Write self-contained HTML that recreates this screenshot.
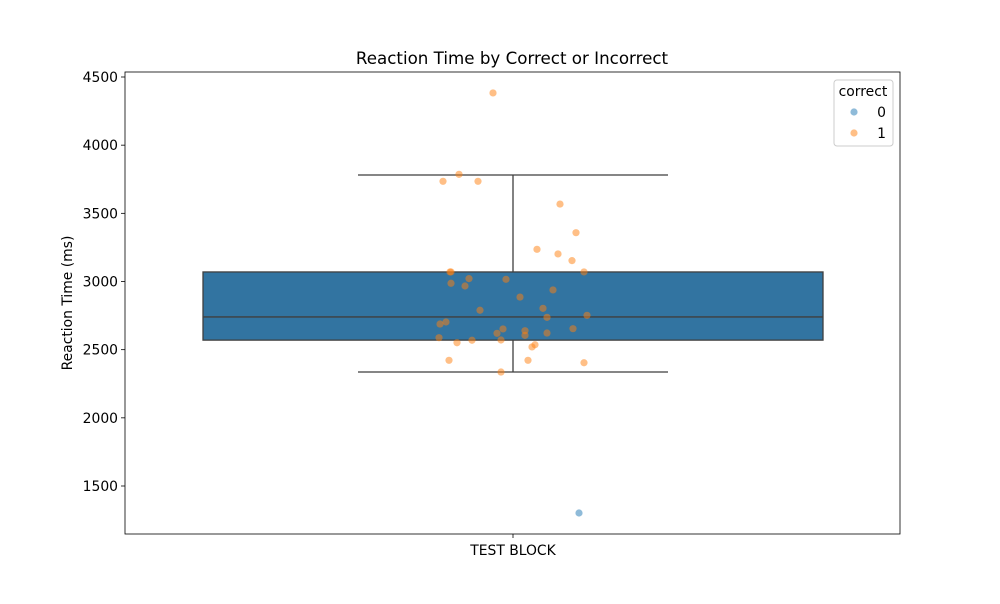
<!DOCTYPE html>
<html><head><meta charset="utf-8"><style>
body{margin:0;background:#fff;font-family:"DejaVu Sans","Liberation Sans",sans-serif}
svg text{font-family:"DejaVu Sans","Liberation Sans",sans-serif}
</style></head><body>
<svg id="c" width="1000" height="600" xmlns="http://www.w3.org/2000/svg"></svg>
<script>
const category = ["TEST BLOCK"];
const yTicks = [1500,2000,2500,3000,3500,4000,4500];
const boxStats = {q1:2570, median:2740, q3:3070, lo:2336, hi:3781};
const correctValues = [4383,3786,3735,3735,3568,3358,3236,3202,3153,3070,3070,3070,3021,3016,2987,2967,2938,2886,2789,2803,2737,2752,2703,2688,2652,2654,2639,2620,2605,2622,2588,2571,2569,2551,2536,2520,2422,2422,2404,2336];
const correctJitter = [-20,-54,-70,-35,47,63,24,45,59,-63,-62,71,-44,-7,-62,-48,40,7,-33,30,34,74,-67,-73,-10,60,12,-16,12,34,-74,-12,-41,-56,22,19,-64,15,71,-12];
const incorrectValues = [1302];
const incorrectJitter = [66];
const svg=document.getElementById('c');const NS='http://www.w3.org/2000/svg';
function el(t,a,txt){const e=document.createElementNS(NS,t);for(const k in a)e.setAttribute(k,a[k]);if(txt!==undefined)e.textContent=txt;svg.appendChild(e);return e;}
const L=125,R=900,T=72,B=534,cx=513;
const y=v=>486-(v-1500)*(409/3000);
let e=el('rect',{x:L,y:T,width:R-L,height:B-T,fill:'none',stroke:'#000','stroke-width':0.8});

e=el('text',{x:512,y:64,'text-anchor':'middle','font-size':16.7},'Reaction Time by Correct or Incorrect');

yTicks.forEach(t=>{const yy=y(t);
 el('line',{x1:L-4,x2:L,y1:yy,y2:yy,stroke:'#000','stroke-width':0.8});
 e=el('text',{x:L-7,y:yy+5,'text-anchor':'end','font-size':13.9},t);
 });
e=el('text',{x:72,y:303,'text-anchor':'middle','font-size':13.9,transform:'rotate(-90 72 303)'},'Reaction Time (ms)');

el('line',{x1:cx,x2:cx,y1:B,y2:B+4,stroke:'#000','stroke-width':0.8});
e=el('text',{x:cx,y:555,'text-anchor':'middle','font-size':13.9},category[0]);

const bw=310,ww=155,sc='#3f3f3f';
el('line',{x1:cx,x2:cx,y1:y(boxStats.hi),y2:y(boxStats.q3),stroke:sc,'stroke-width':1.3});
el('line',{x1:cx,x2:cx,y1:y(boxStats.q1),y2:y(boxStats.lo),stroke:sc,'stroke-width':1.3});
el('line',{x1:cx-ww,x2:cx+ww,y1:y(boxStats.hi),y2:y(boxStats.hi),stroke:sc,'stroke-width':1.3});
el('line',{x1:cx-ww,x2:cx+ww,y1:y(boxStats.lo),y2:y(boxStats.lo),stroke:sc,'stroke-width':1.3});
e=el('rect',{x:cx-bw,y:y(boxStats.q3),width:2*bw,height:y(boxStats.q1)-y(boxStats.q3),fill:'#3274a1',stroke:sc,'stroke-width':1.3});

el('line',{x1:cx-bw,x2:cx+bw,y1:y(boxStats.median),y2:y(boxStats.median),stroke:sc,'stroke-width':1.3});
correctValues.forEach((v,i)=>{e=el('circle',{cx:cx+correctJitter[i],cy:y(v),r:3.6,fill:'#ff7f0e','fill-opacity':0.5});
 });
incorrectValues.forEach((v,i)=>{e=el('circle',{cx:cx+incorrectJitter[i],cy:y(v),r:3.6,fill:'#1f77b4','fill-opacity':0.5});
 });
e=el('rect',{x:834,y:80,width:59,height:66,rx:3,fill:'#fff',stroke:'#ccc','stroke-width':1});

e=el('text',{x:863,y:96,'text-anchor':'middle','font-size':13.9},'correct');

el('circle',{cx:854,cy:112,r:3.6,fill:'#1f77b4','fill-opacity':0.5});
e=el('text',{x:886,y:117,'text-anchor':'end','font-size':13.9},'0');

el('circle',{cx:854,cy:133,r:3.6,fill:'#ff7f0e','fill-opacity':0.5});
e=el('text',{x:886,y:138,'text-anchor':'end','font-size':13.9},'1');

</script>
</body></html>
